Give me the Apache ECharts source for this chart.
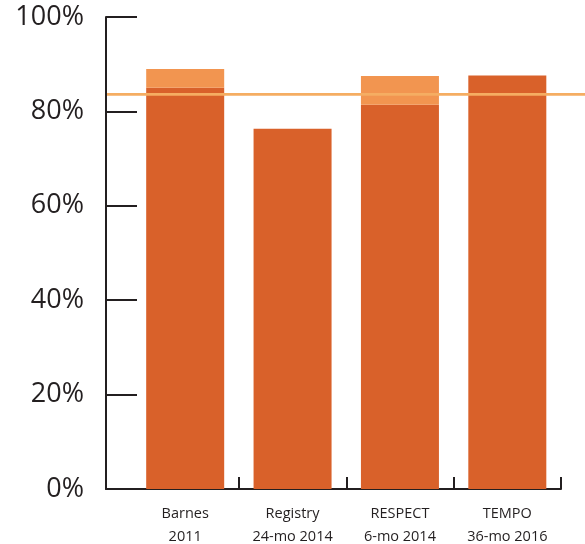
<!DOCTYPE html>
<html>
<head>
<meta charset="utf-8">
<script src="https://cdn.jsdelivr.net/npm/echarts@6/dist/echarts.min.js"></script>
<style>
html,body{margin:0;padding:0;background:#fff;}
#chart{width:585px;height:544px;}
</style>
</head>
<body>
<div id="chart"></div>
<script>
var categories = ['Barnes\n2011', 'Registry\n24-mo 2014', 'RESPECT\n6-mo 2014', 'TEMPO\n36-mo 2016'];
var baseValues = [85, 76.3, 81.4, 87.6];
var topValues = [89, null, 87.5, null];
var referenceLine = [83.6];
var yTicks = [0, 20, 40, 60, 80, 100];

var extraValues = baseValues.map(function (v, i) {
  return topValues[i] == null ? null : +(topValues[i] - v).toFixed(2);
});

var AX = '#231f20';
var FONT = '"Open Sans", "Noto Sans", sans-serif';
var gridTop = 17, gridBottom = 55;

var chart = echarts.init(document.getElementById('chart'));
chart.setOption({
  backgroundColor: '#ffffff',
  animation: false,
  grid: [
    {left: 106, right: 24, top: gridTop, bottom: gridBottom, outerBoundsMode: 'none', containLabel: false},
    {left: 131.5, right: 24, top: gridTop, bottom: gridBottom, outerBoundsMode: 'none', containLabel: false},
    {left: 107, right: 0, top: gridTop, bottom: gridBottom, outerBoundsMode: 'none', containLabel: false}
  ],
  xAxis: [
    {gridIndex: 0, type: 'value', min: 0, max: 1, show: true,
     axisLine: {show: true, onZero: false, lineStyle: {color: AX, width: 2}},
     axisTick: {show: false}, axisLabel: {show: false}, splitLine: {show: false}},
    {gridIndex: 1, type: 'category', data: categories,
     axisLine: {show: false},
     axisTick: {show: true, inside: true, length: 12, lineStyle: {color: AX, width: 2},
                interval: function (i) { return i !== 0; }},
     axisLabel: {fontFamily: FONT, fontSize: 14.5, color: AX, lineHeight: 23, margin: 13, interval: 0}},
    {gridIndex: 2, type: 'value', min: 0, max: 1, show: false}
  ],
  yAxis: [
    {gridIndex: 0, type: 'value', min: yTicks[0], max: yTicks[yTicks.length - 1], interval: 20,
     axisLine: {show: true, lineStyle: {color: AX, width: 2}},
     axisTick: {show: true, inside: true, length: 31, lineStyle: {color: AX, width: 2}},
     axisLabel: {formatter: '{value}%', fontFamily: FONT, fontSize: 27, color: AX, margin: 22},
     splitLine: {show: false}},
    {gridIndex: 1, type: 'value', min: 0, max: 100, show: false},
    {gridIndex: 2, type: 'value', min: 0, max: 100, show: false}
  ],
  series: [
    {type: 'bar', xAxisIndex: 1, yAxisIndex: 1, stack: 'a', data: baseValues,
     barWidth: 78, itemStyle: {color: '#d9612a'}, z: 2},
    {type: 'bar', xAxisIndex: 1, yAxisIndex: 1, stack: 'a', data: extraValues,
     barWidth: 78, itemStyle: {color: '#f29550'}, z: 2},
    {type: 'line', xAxisIndex: 2, yAxisIndex: 2,
     data: [[0, referenceLine[0]], [1, referenceLine[0]]],
     symbol: 'none', lineStyle: {color: '#f5ad62', width: 2.7}, z: 5}
  ]
});
</script>
</body>
</html>
